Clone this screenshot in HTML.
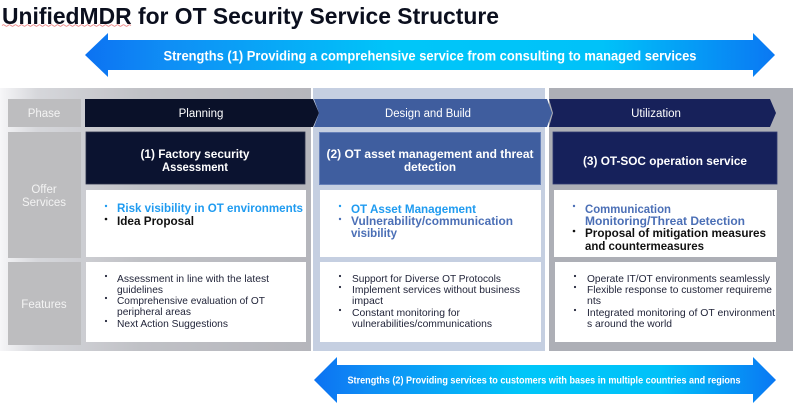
<!DOCTYPE html>
<html><head><meta charset="utf-8"><style>
html,body{margin:0;padding:0;background:#fff;}
svg{display:block;}
text{font-family:"Liberation Sans",Arial,sans-serif;}
</style></head><body>
<svg width="800" height="403" viewBox="0 0 800 403" xmlns="http://www.w3.org/2000/svg">
<defs>
<linearGradient id="ag" x1="0" y1="0" x2="1" y2="0">
<stop offset="0" stop-color="#0c72f2"/>
<stop offset="0.12" stop-color="#0f8ef5"/>
<stop offset="0.45" stop-color="#00c6f9"/>
<stop offset="0.75" stop-color="#00c2f9"/>
<stop offset="1" stop-color="#0a78f3"/>
</linearGradient>
<linearGradient id="p1" x1="0" y1="0" x2="1" y2="0">
<stop offset="0" stop-color="#f6f6f8"/>
<stop offset="0.12" stop-color="#d6d7db"/>
<stop offset="0.45" stop-color="#c0c1c6"/>
<stop offset="1" stop-color="#b5b6bc"/>
</linearGradient>
</defs>

<!-- Title -->
<text x="2" y="24" font-size="23.5" font-weight="bold" fill="#0b0f1e" textLength="497" lengthAdjust="spacingAndGlyphs">UnifiedMDR for OT Security Service Structure</text>
<path d="M2 25.5 q1.5 -1.5 3 0 t3 0 t3 0 t3 0 t3 0 t3 0 t3 0 t3 0 t3 0 t3 0 t3 0 t3 0 t3 0 t3 0 t3 0 t3 0 t3 0 t3 0 t3 0 t3 0 t3 0 t3 0 t3 0 t3 0 t3 0 t3 0 t3 0 t3 0 t3 0 t3 0 t3 0 t3 0 t3 0 t3 0 t3 0 t3 0 t3 0 t3 0 t3 0 t3 0 t3 0 t3 0 t3 0" fill="none" stroke="#e86a6a" stroke-width="0.8"/>

<!-- Top arrow -->
<polygon points="85,55 108,33 108,40 753,40 753,33 775,55 753,77 753,70 108,70 108,77" fill="url(#ag)"/>
<text x="430" y="56" font-size="13.5" font-weight="bold" fill="#fff" text-anchor="middle" dominant-baseline="central" textLength="533" lengthAdjust="spacingAndGlyphs">Strengths (1) Providing a comprehensive service from consulting to managed services</text>

<!-- Column panels -->
<rect x="0" y="88" width="311" height="263" fill="url(#p1)"/>
<rect x="313" y="88" width="232" height="263" fill="#c5cfe1"/>
<rect x="549" y="88" width="244" height="263" fill="#adafb6"/>

<!-- Phase row -->
<rect x="8" y="99" width="73" height="28" fill="#bdbdbf"/>
<text x="44" y="114" font-size="11.5" fill="#f3f3f3" text-anchor="middle" dominant-baseline="central">Phase</text>
<polygon points="85,99 313,99 319,113 313,127 85,127" fill="#0a1129"/>
<polygon points="314,99 547,99 552,113 547,127 314,127 319,113" fill="#3f5d9e"/>
<polygon points="549,99 770,99 776,113 770,127 549,127 553,113" fill="#17215a"/>
<text x="201" y="114" font-size="11.5" fill="#ffffff" text-anchor="middle" dominant-baseline="central">Planning</text>
<text x="428" y="114" font-size="11.5" fill="#ffffff" text-anchor="middle" dominant-baseline="central" textLength="86" lengthAdjust="spacingAndGlyphs">Design and Build</text>
<text x="656" y="114" font-size="11.5" fill="#ffffff" text-anchor="middle" dominant-baseline="central">Utilization</text>

<!-- Offer services row -->
<rect x="8" y="132" width="73" height="126" fill="#bdbdbf"/>
<text x="44" y="190" font-size="11.5" fill="#f3f3f3" text-anchor="middle" dominant-baseline="central">Offer</text>
<text x="44" y="203" font-size="11.5" fill="#f3f3f3" text-anchor="middle" dominant-baseline="central">Services</text>

<rect x="86" y="132" width="219" height="52" fill="#0b1330" stroke="#2a3048" stroke-width="0.8"/>
<rect x="319.5" y="132.5" width="221" height="52" fill="#3f5e9f" stroke="#6680b8" stroke-width="1"/>
<rect x="553" y="132" width="224" height="52" fill="#16215b" stroke="#2f3a70" stroke-width="0.8"/>

<text x="195" y="154" font-size="12" font-weight="bold" fill="#fff" text-anchor="middle" dominant-baseline="central" textLength="109" lengthAdjust="spacingAndGlyphs">(1) Factory security</text>
<text x="195" y="167" font-size="12" font-weight="bold" fill="#fff" text-anchor="middle" dominant-baseline="central" textLength="66" lengthAdjust="spacingAndGlyphs">Assessment</text>
<text x="430" y="154" font-size="12" font-weight="bold" fill="#fff" text-anchor="middle" dominant-baseline="central" textLength="207" lengthAdjust="spacingAndGlyphs">(2) OT asset management and threat</text>
<text x="430" y="167" font-size="12" font-weight="bold" fill="#fff" text-anchor="middle" dominant-baseline="central" textLength="52" lengthAdjust="spacingAndGlyphs">detection</text>
<text x="665" y="161" font-size="12" font-weight="bold" fill="#fff" text-anchor="middle" dominant-baseline="central" textLength="164" lengthAdjust="spacingAndGlyphs">(3) OT-SOC operation service</text>

<rect x="86" y="190" width="220" height="67" fill="#ffffff"/>
<rect x="320" y="190" width="221" height="67" fill="#ffffff"/>
<rect x="554" y="190" width="223" height="67" fill="#ffffff"/>

<!-- col1 offer -->
<circle cx="106" cy="206" r="1.2" fill="#1f9bf0"/>
<text x="117" y="208" font-size="12" font-weight="bold" fill="#1f9bf0" dominant-baseline="central" textLength="186" lengthAdjust="spacingAndGlyphs">Risk visibility in OT environments</text>
<circle cx="106" cy="219" r="1.3" fill="#111"/>
<text x="117" y="221" font-size="12" font-weight="bold" fill="#111" dominant-baseline="central" textLength="77" lengthAdjust="spacingAndGlyphs">Idea Proposal</text>

<!-- col2 offer -->
<circle cx="340" cy="206" r="1.2" fill="#1f9bf0"/>
<text x="351" y="209" font-size="12" font-weight="bold" fill="#1f9bf0" dominant-baseline="central" textLength="125" lengthAdjust="spacingAndGlyphs">OT Asset Management</text>
<circle cx="340" cy="219" r="1.2" fill="#4b6fb6"/>
<text x="351" y="221" font-size="12" font-weight="bold" fill="#4b6fb6" dominant-baseline="central" textLength="162" lengthAdjust="spacingAndGlyphs">Vulnerability/communication</text>
<text x="351" y="233" font-size="12" font-weight="bold" fill="#4b6fb6" dominant-baseline="central" textLength="46" lengthAdjust="spacingAndGlyphs">visibility</text>

<!-- col3 offer -->
<circle cx="574" cy="206" r="1.2" fill="#4b6fb6"/>
<text x="585" y="209" font-size="12" font-weight="bold" fill="#4b6fb6" dominant-baseline="central" textLength="86" lengthAdjust="spacingAndGlyphs">Communication</text>
<text x="585" y="221" font-size="12" font-weight="bold" fill="#4b6fb6" dominant-baseline="central" textLength="160" lengthAdjust="spacingAndGlyphs">Monitoring/Threat Detection</text>
<circle cx="574" cy="231" r="1.3" fill="#111"/>
<text x="585" y="233" font-size="12" font-weight="bold" fill="#111" dominant-baseline="central" textLength="181" lengthAdjust="spacingAndGlyphs">Proposal of mitigation measures</text>
<text x="585" y="246" font-size="12" font-weight="bold" fill="#111" dominant-baseline="central" textLength="119" lengthAdjust="spacingAndGlyphs">and countermeasures</text>

<!-- Features row -->
<rect x="8" y="262" width="73" height="83" fill="#bdbdbf"/>
<text x="44" y="305" font-size="11.5" fill="#f3f3f3" text-anchor="middle" dominant-baseline="central">Features</text>

<rect x="86" y="262" width="220" height="80" fill="#ffffff"/>
<rect x="320" y="262" width="221" height="80" fill="#ffffff"/>
<rect x="555" y="262" width="221" height="80" fill="#ffffff"/>

<g font-size="10.5" fill="#22253a">
<circle cx="106" cy="276" r="1.1" fill="#22253a"/>
<text x="117" y="279" dominant-baseline="central" textLength="152" lengthAdjust="spacingAndGlyphs">Assessment in line with the latest</text>
<text x="117" y="290" dominant-baseline="central" textLength="46" lengthAdjust="spacingAndGlyphs">guidelines</text>
<circle cx="106" cy="298" r="1.1" fill="#22253a"/>
<text x="117" y="301" dominant-baseline="central" textLength="148" lengthAdjust="spacingAndGlyphs">Comprehensive evaluation of OT</text>
<text x="117" y="312" dominant-baseline="central" textLength="74" lengthAdjust="spacingAndGlyphs">peripheral areas</text>
<circle cx="106" cy="321" r="1.1" fill="#22253a"/>
<text x="117" y="324" dominant-baseline="central" textLength="111" lengthAdjust="spacingAndGlyphs">Next Action Suggestions</text>

<circle cx="340" cy="276" r="1.1" fill="#22253a"/>
<text x="352" y="279" dominant-baseline="central" textLength="149" lengthAdjust="spacingAndGlyphs">Support for Diverse OT Protocols</text>
<circle cx="340" cy="287" r="1.1" fill="#22253a"/>
<text x="352" y="290" dominant-baseline="central" textLength="168" lengthAdjust="spacingAndGlyphs">Implement services without business</text>
<text x="352" y="301" dominant-baseline="central" textLength="31" lengthAdjust="spacingAndGlyphs">impact</text>
<circle cx="340" cy="310" r="1.1" fill="#22253a"/>
<text x="352" y="313" dominant-baseline="central" textLength="108" lengthAdjust="spacingAndGlyphs">Constant monitoring for</text>
<text x="352" y="324" dominant-baseline="central" textLength="140" lengthAdjust="spacingAndGlyphs">vulnerabilities/communications</text>

<circle cx="575" cy="276" r="1.1" fill="#22253a"/>
<text x="587" y="279" dominant-baseline="central" textLength="183" lengthAdjust="spacingAndGlyphs">Operate IT/OT environments seamlessly</text>
<circle cx="575" cy="287" r="1.1" fill="#22253a"/>
<text x="587" y="290" dominant-baseline="central" textLength="185" lengthAdjust="spacingAndGlyphs">Flexible response to customer requireme</text>
<text x="587" y="301" dominant-baseline="central">nts</text>
<circle cx="575" cy="310" r="1.1" fill="#22253a"/>
<text x="587" y="313" dominant-baseline="central" textLength="188" lengthAdjust="spacingAndGlyphs">Integrated monitoring of OT environment</text>
<text x="587" y="324" dominant-baseline="central" textLength="85" lengthAdjust="spacingAndGlyphs">s around the world</text>
</g>

<!-- Bottom arrow -->
<polygon points="314,380 337,357 337,365 753,365 753,357 776,380 753,403 753,394 337,394 337,403" fill="url(#ag)"/>
<text x="544" y="381" font-size="10" font-weight="bold" fill="#fff" text-anchor="middle" dominant-baseline="central" textLength="393" lengthAdjust="spacingAndGlyphs">Strengths (2) Providing services to customers with bases in multiple countries and regions</text>
</svg>
</body></html>
